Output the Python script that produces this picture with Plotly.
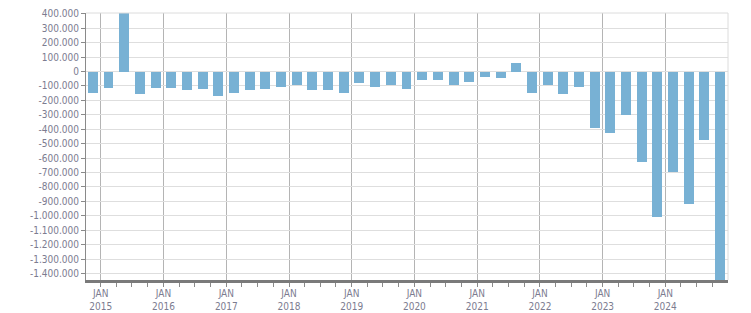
import pandas as pd
import plotly.graph_objects as go

quarters = ["2014Q4",
            "2015Q1", "2015Q2", "2015Q3", "2015Q4",
            "2016Q1", "2016Q2", "2016Q3", "2016Q4",
            "2017Q1", "2017Q2", "2017Q3", "2017Q4",
            "2018Q1", "2018Q2", "2018Q3", "2018Q4",
            "2019Q1", "2019Q2", "2019Q3", "2019Q4",
            "2020Q1", "2020Q2", "2020Q3", "2020Q4",
            "2021Q1", "2021Q2", "2021Q3", "2021Q4",
            "2022Q1", "2022Q2", "2022Q3", "2022Q4",
            "2023Q1", "2023Q2", "2023Q3", "2023Q4",
            "2024Q1", "2024Q2", "2024Q3", "2024Q4"]
values = [-150000,
          -116000, 410000, -157000, -116000,
          -116000, -130000, -123000, -171000,
          -150000, -130000, -123000, -109000,
          -95000, -130000, -130000, -150000,
          -81000, -109000, -95000, -123000,
          -60000, -60000, -95000, -74000,
          -39000, -46000, 56000, -150000,
          -95000, -157000, -109000, -394000,
          -428000, -303000, -630000, -1005000,
          -699000, -915000, -477000, -1460000]

year_ticks = ["2015-01-01", "2016-01-01", "2017-01-01", "2018-01-01", "2019-01-01",
              "2020-01-01", "2021-01-01", "2022-01-01", "2023-01-01", "2024-01-01"]
year_labels = ["JAN<br>2015", "JAN<br>2016", "JAN<br>2017", "JAN<br>2018", "JAN<br>2019",
               "JAN<br>2020", "JAN<br>2021", "JAN<br>2022", "JAN<br>2023", "JAN<br>2024"]
y_ticks = [400000, 300000, 200000, 100000, 0, -100000, -200000, -300000, -400000,
           -500000, -600000, -700000, -800000, -900000, -1000000, -1100000,
           -1200000, -1300000, -1400000]
y_labels = [f"{v:,}".replace(",", ".") for v in y_ticks]

# bar centred in the middle of each quarter
periods = pd.PeriodIndex(quarters, freq="Q")
x_mid = [p.start_time + (p.end_time - p.start_time) / 2 for p in periods]

BAR = "#78b1d4"
TXT = "#7c7c90"
FONT = "DejaVu Sans Condensed, Liberation Sans, Arial, sans-serif"

fig = go.Figure(go.Bar(
    x=x_mid, y=values, marker=dict(color=BAR, line=dict(width=0)),
    width=58 * 86400000, hoverinfo="skip"))

fig.update_layout(
    width=751, height=313,
    margin=dict(l=86, r=23, t=13, b=33),
    paper_bgcolor="white", plot_bgcolor="white",
    font=dict(family=FONT, size=10, color=TXT),
    showlegend=False, bargap=0,
    shapes=[
        dict(type="line", xref="paper", yref="paper", x0=0, x1=1, y0=1, y1=1,
             line=dict(color="#dcdcdc", width=1)),
        dict(type="line", xref="paper", yref="paper", x0=1, x1=1, y0=0, y1=1,
             line=dict(color="#dcdcdc", width=1)),
    ],
)
fig.update_xaxes(
    type="date", range=["2014-10-07", "2024-12-31"], automargin=False,
    tickmode="array", tickvals=year_ticks, ticktext=year_labels,
    ticks="", ticklabelstandoff=2, showgrid=True, gridcolor="#b4b4b4", gridwidth=1,
    showline=True, linecolor="#7a7a7a", linewidth=3,
    minor=dict(ticks="outside", ticklen=4, tickcolor="#8a8a8a", tickwidth=1,
               dtick="M3", tick0="2015-01-01", showgrid=False),
    tickfont=dict(size=10, color=TXT), zeroline=False,
)
fig.update_yaxes(
    range=[-1445000, 406000], automargin=False,
    tickmode="array", tickvals=y_ticks, ticktext=y_labels,
    ticks="outside", ticklen=4, tickcolor="#8a8a8a", tickwidth=1,
    showgrid=True, gridcolor="#dedede", gridwidth=1,
    showline=True, linecolor="#8a8a8a", linewidth=1,
    zeroline=False, tickfont=dict(size=10, color=TXT),
)

fig.write_html("out.html")
